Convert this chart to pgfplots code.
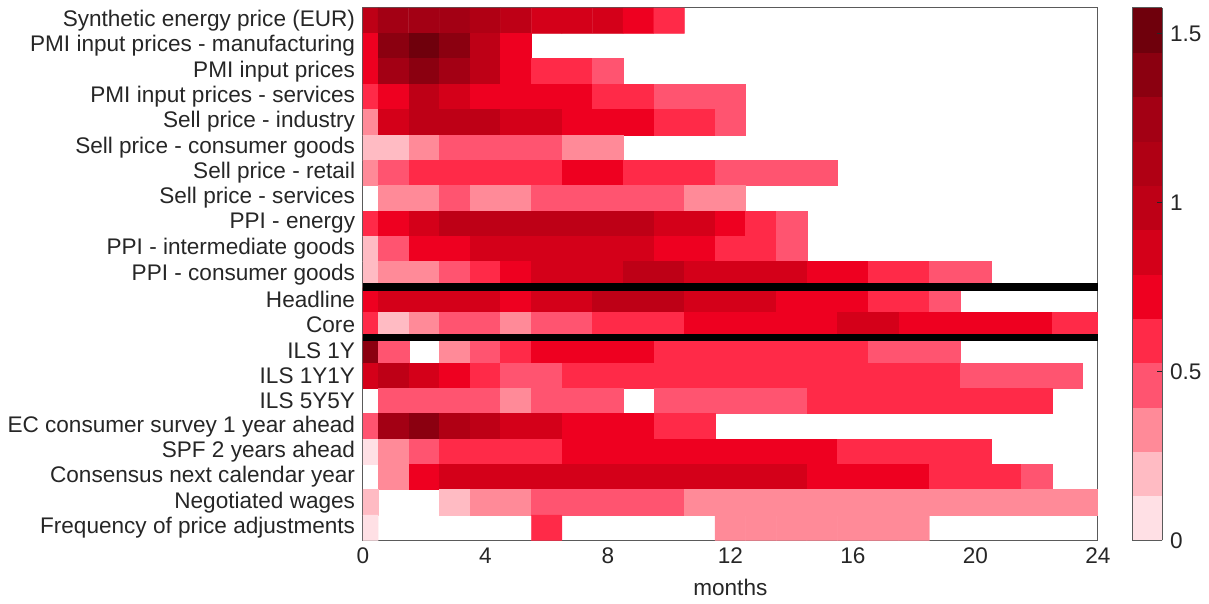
\documentclass[border=0pt]{standalone}
\usepackage{pgfplots}
\pgfplotsset{compat=1.18}
\usepackage{fontspec}
\setmainfont{Liberation Sans}
\definecolor{txt}{RGB}{38,38,38}
\definecolor{frame}{RGB}{90,90,90}
\newcommand{\fs}{\fontsize{22.6}{27}\selectfont}
\begin{document}
\fs
\begin{tikzpicture}
\begin{axis}[
  at={(0,0)}, anchor=south west,
  scale only axis, width=736pt, height=533pt,
  xmin=0, xmax=24, ymin=0.5, ymax=21.5, y dir=reverse,
  xtick={0,4,...,24}, ytick={1,...,21},
  yticklabels={Synthetic energy price (EUR),PMI input prices - manufacturing,PMI input prices,PMI input prices - services,Sell price - industry,Sell price - consumer goods,Sell price - retail,Sell price - services,PPI - energy,PPI - intermediate goods,PPI - consumer goods,Headline,Core,ILS 1Y,ILS 1Y1Y,ILS 5Y5Y,EC consumer survey 1 year ahead,SPF 2 years ahead,Consensus next calendar year,Negotiated wages,Frequency of price adjustments},
  major tick style={draw=none},
  xlabel={months},
  label style={font=\fs, text=txt},
  tick label style={font=\fs, text=txt},
  /pgf/number format/assume math mode=true,
  axis line style={frame, line width=1pt},
  unbounded coords=jump,
  point meta min=0, point meta max=1.577,
  colormap={ecb}{rgb255=(255,224,229) rgb255=(255,187,195) rgb255=(255,138,152) rgb255=(255,84,112) rgb255=(255,42,72) rgb255=(238,0,32) rgb255=(212,0,25) rgb255=(190,0,22) rgb255=(176,0,20) rgb255=(163,0,20) rgb255=(139,0,16) rgb255=(111,0,12)},
  colormap access=piecewise constant,
  colorbar,
  colorbar style={
    width=30pt, at={(parent axis.north east)}, anchor=north west, xshift=26pt,
    ymin=0, ymax=1.577, ytick={0,0.5,1,1.5},
    ytick pos=right, yticklabel pos=right,
    tick align=inside, major tick length=5pt,
    major tick style={draw=txt, line width=1pt},
    axis line style={frame, line width=1pt},
    tick label style={font=\fs, text=txt},
    /pgf/number format/assume math mode=true,
  },
]
\addplot[matrix plot*, mesh/cols=25, mesh/rows=21, point meta=explicit] coordinates {
(0,1)[0.986] (1,1)[1.248] (2,1)[1.248] (3,1)[1.248] (4,1)[1.117] (5,1)[0.986] (6,1)[0.854] (7,1)[0.854] (8,1)[0.854] (9,1)[0.723] (10,1)[0.591] (11,1)[nan] (12,1)[nan] (13,1)[nan] (14,1)[nan] (15,1)[nan] (16,1)[nan] (17,1)[nan] (18,1)[nan] (19,1)[nan] (20,1)[nan] (21,1)[nan] (22,1)[nan] (23,1)[nan] (24,1)[nan]
(0,2)[0.723] (1,2)[1.380] (2,2)[1.511] (3,2)[1.380] (4,2)[0.986] (5,2)[0.723] (6,2)[nan] (7,2)[nan] (8,2)[nan] (9,2)[nan] (10,2)[nan] (11,2)[nan] (12,2)[nan] (13,2)[nan] (14,2)[nan] (15,2)[nan] (16,2)[nan] (17,2)[nan] (18,2)[nan] (19,2)[nan] (20,2)[nan] (21,2)[nan] (22,2)[nan] (23,2)[nan] (24,2)[nan]
(0,3)[0.723] (1,3)[1.248] (2,3)[1.380] (3,3)[1.248] (4,3)[0.986] (5,3)[0.723] (6,3)[0.591] (7,3)[0.591] (8,3)[0.460] (9,3)[nan] (10,3)[nan] (11,3)[nan] (12,3)[nan] (13,3)[nan] (14,3)[nan] (15,3)[nan] (16,3)[nan] (17,3)[nan] (18,3)[nan] (19,3)[nan] (20,3)[nan] (21,3)[nan] (22,3)[nan] (23,3)[nan] (24,3)[nan]
(0,4)[0.591] (1,4)[0.723] (2,4)[0.986] (3,4)[0.854] (4,4)[0.723] (5,4)[0.723] (6,4)[0.723] (7,4)[0.723] (8,4)[0.591] (9,4)[0.591] (10,4)[0.460] (11,4)[0.460] (12,4)[0.460] (13,4)[nan] (14,4)[nan] (15,4)[nan] (16,4)[nan] (17,4)[nan] (18,4)[nan] (19,4)[nan] (20,4)[nan] (21,4)[nan] (22,4)[nan] (23,4)[nan] (24,4)[nan]
(0,5)[0.329] (1,5)[0.854] (2,5)[0.986] (3,5)[0.986] (4,5)[0.986] (5,5)[0.854] (6,5)[0.854] (7,5)[0.723] (8,5)[0.723] (9,5)[0.723] (10,5)[0.591] (11,5)[0.591] (12,5)[0.460] (13,5)[nan] (14,5)[nan] (15,5)[nan] (16,5)[nan] (17,5)[nan] (18,5)[nan] (19,5)[nan] (20,5)[nan] (21,5)[nan] (22,5)[nan] (23,5)[nan] (24,5)[nan]
(0,6)[0.197] (1,6)[0.197] (2,6)[0.329] (3,6)[0.460] (4,6)[0.460] (5,6)[0.460] (6,6)[0.460] (7,6)[0.329] (8,6)[0.329] (9,6)[nan] (10,6)[nan] (11,6)[nan] (12,6)[nan] (13,6)[nan] (14,6)[nan] (15,6)[nan] (16,6)[nan] (17,6)[nan] (18,6)[nan] (19,6)[nan] (20,6)[nan] (21,6)[nan] (22,6)[nan] (23,6)[nan] (24,6)[nan]
(0,7)[0.329] (1,7)[0.460] (2,7)[0.591] (3,7)[0.591] (4,7)[0.591] (5,7)[0.591] (6,7)[0.591] (7,7)[0.723] (8,7)[0.723] (9,7)[0.591] (10,7)[0.591] (11,7)[0.591] (12,7)[0.460] (13,7)[0.460] (14,7)[0.460] (15,7)[0.460] (16,7)[nan] (17,7)[nan] (18,7)[nan] (19,7)[nan] (20,7)[nan] (21,7)[nan] (22,7)[nan] (23,7)[nan] (24,7)[nan]
(0,8)[nan] (1,8)[0.329] (2,8)[0.329] (3,8)[0.460] (4,8)[0.329] (5,8)[0.329] (6,8)[0.460] (7,8)[0.460] (8,8)[0.460] (9,8)[0.460] (10,8)[0.460] (11,8)[0.329] (12,8)[0.329] (13,8)[nan] (14,8)[nan] (15,8)[nan] (16,8)[nan] (17,8)[nan] (18,8)[nan] (19,8)[nan] (20,8)[nan] (21,8)[nan] (22,8)[nan] (23,8)[nan] (24,8)[nan]
(0,9)[0.591] (1,9)[0.723] (2,9)[0.854] (3,9)[0.986] (4,9)[0.986] (5,9)[0.986] (6,9)[0.986] (7,9)[0.986] (8,9)[0.986] (9,9)[0.986] (10,9)[0.854] (11,9)[0.854] (12,9)[0.723] (13,9)[0.591] (14,9)[0.460] (15,9)[nan] (16,9)[nan] (17,9)[nan] (18,9)[nan] (19,9)[nan] (20,9)[nan] (21,9)[nan] (22,9)[nan] (23,9)[nan] (24,9)[nan]
(0,10)[0.197] (1,10)[0.460] (2,10)[0.723] (3,10)[0.723] (4,10)[0.854] (5,10)[0.854] (6,10)[0.854] (7,10)[0.854] (8,10)[0.854] (9,10)[0.854] (10,10)[0.723] (11,10)[0.723] (12,10)[0.591] (13,10)[0.591] (14,10)[0.460] (15,10)[nan] (16,10)[nan] (17,10)[nan] (18,10)[nan] (19,10)[nan] (20,10)[nan] (21,10)[nan] (22,10)[nan] (23,10)[nan] (24,10)[nan]
(0,11)[0.197] (1,11)[0.329] (2,11)[0.329] (3,11)[0.460] (4,11)[0.591] (5,11)[0.723] (6,11)[0.854] (7,11)[0.854] (8,11)[0.854] (9,11)[0.986] (10,11)[0.986] (11,11)[0.854] (12,11)[0.854] (13,11)[0.854] (14,11)[0.854] (15,11)[0.723] (16,11)[0.723] (17,11)[0.591] (18,11)[0.591] (19,11)[0.460] (20,11)[0.460] (21,11)[nan] (22,11)[nan] (23,11)[nan] (24,11)[nan]
(0,12)[0.723] (1,12)[0.854] (2,12)[0.854] (3,12)[0.854] (4,12)[0.854] (5,12)[0.723] (6,12)[0.854] (7,12)[0.854] (8,12)[0.986] (9,12)[0.986] (10,12)[0.986] (11,12)[0.854] (12,12)[0.854] (13,12)[0.854] (14,12)[0.723] (15,12)[0.723] (16,12)[0.723] (17,12)[0.591] (18,12)[0.591] (19,12)[0.460] (20,12)[nan] (21,12)[nan] (22,12)[nan] (23,12)[nan] (24,12)[nan]
(0,13)[0.591] (1,13)[0.197] (2,13)[0.329] (3,13)[0.460] (4,13)[0.460] (5,13)[0.329] (6,13)[0.460] (7,13)[0.460] (8,13)[0.591] (9,13)[0.591] (10,13)[0.591] (11,13)[0.723] (12,13)[0.723] (13,13)[0.723] (14,13)[0.723] (15,13)[0.723] (16,13)[0.854] (17,13)[0.854] (18,13)[0.723] (19,13)[0.723] (20,13)[0.723] (21,13)[0.723] (22,13)[0.723] (23,13)[0.591] (24,13)[0.591]
(0,14)[1.380] (1,14)[0.460] (2,14)[nan] (3,14)[0.329] (4,14)[0.460] (5,14)[0.591] (6,14)[0.723] (7,14)[0.723] (8,14)[0.723] (9,14)[0.723] (10,14)[0.591] (11,14)[0.591] (12,14)[0.591] (13,14)[0.591] (14,14)[0.591] (15,14)[0.591] (16,14)[0.591] (17,14)[0.460] (18,14)[0.460] (19,14)[0.460] (20,14)[nan] (21,14)[nan] (22,14)[nan] (23,14)[nan] (24,14)[nan]
(0,15)[0.854] (1,15)[0.986] (2,15)[0.854] (3,15)[0.723] (4,15)[0.591] (5,15)[0.460] (6,15)[0.460] (7,15)[0.591] (8,15)[0.591] (9,15)[0.591] (10,15)[0.591] (11,15)[0.591] (12,15)[0.591] (13,15)[0.591] (14,15)[0.591] (15,15)[0.591] (16,15)[0.591] (17,15)[0.591] (18,15)[0.591] (19,15)[0.591] (20,15)[0.460] (21,15)[0.460] (22,15)[0.460] (23,15)[0.460] (24,15)[nan]
(0,16)[nan] (1,16)[0.460] (2,16)[0.460] (3,16)[0.460] (4,16)[0.460] (5,16)[0.329] (6,16)[0.460] (7,16)[0.460] (8,16)[0.460] (9,16)[nan] (10,16)[0.460] (11,16)[0.460] (12,16)[0.460] (13,16)[0.460] (14,16)[0.460] (15,16)[0.591] (16,16)[0.591] (17,16)[0.591] (18,16)[0.591] (19,16)[0.591] (20,16)[0.591] (21,16)[0.591] (22,16)[0.591] (23,16)[nan] (24,16)[nan]
(0,17)[0.460] (1,17)[1.248] (2,17)[1.380] (3,17)[1.117] (4,17)[0.986] (5,17)[0.854] (6,17)[0.854] (7,17)[0.723] (8,17)[0.723] (9,17)[0.723] (10,17)[0.591] (11,17)[0.591] (12,17)[nan] (13,17)[nan] (14,17)[nan] (15,17)[nan] (16,17)[nan] (17,17)[nan] (18,17)[nan] (19,17)[nan] (20,17)[nan] (21,17)[nan] (22,17)[nan] (23,17)[nan] (24,17)[nan]
(0,18)[0.066] (1,18)[0.329] (2,18)[0.460] (3,18)[0.591] (4,18)[0.591] (5,18)[0.591] (6,18)[0.591] (7,18)[0.723] (8,18)[0.723] (9,18)[0.723] (10,18)[0.723] (11,18)[0.723] (12,18)[0.723] (13,18)[0.723] (14,18)[0.723] (15,18)[0.723] (16,18)[0.591] (17,18)[0.591] (18,18)[0.591] (19,18)[0.591] (20,18)[0.591] (21,18)[nan] (22,18)[nan] (23,18)[nan] (24,18)[nan]
(0,19)[nan] (1,19)[0.329] (2,19)[0.723] (3,19)[0.854] (4,19)[0.854] (5,19)[0.854] (6,19)[0.854] (7,19)[0.854] (8,19)[0.854] (9,19)[0.854] (10,19)[0.854] (11,19)[0.854] (12,19)[0.854] (13,19)[0.854] (14,19)[0.854] (15,19)[0.723] (16,19)[0.723] (17,19)[0.723] (18,19)[0.723] (19,19)[0.591] (20,19)[0.591] (21,19)[0.591] (22,19)[0.460] (23,19)[nan] (24,19)[nan]
(0,20)[0.197] (1,20)[nan] (2,20)[nan] (3,20)[0.197] (4,20)[0.329] (5,20)[0.329] (6,20)[0.460] (7,20)[0.460] (8,20)[0.460] (9,20)[0.460] (10,20)[0.460] (11,20)[0.329] (12,20)[0.329] (13,20)[0.329] (14,20)[0.329] (15,20)[0.329] (16,20)[0.329] (17,20)[0.329] (18,20)[0.329] (19,20)[0.329] (20,20)[0.329] (21,20)[0.329] (22,20)[0.329] (23,20)[0.329] (24,20)[0.329]
(0,21)[0.066] (1,21)[nan] (2,21)[nan] (3,21)[nan] (4,21)[nan] (5,21)[nan] (6,21)[0.591] (7,21)[nan] (8,21)[nan] (9,21)[nan] (10,21)[nan] (11,21)[nan] (12,21)[0.329] (13,21)[0.329] (14,21)[0.329] (15,21)[0.329] (16,21)[0.329] (17,21)[0.329] (18,21)[0.329] (19,21)[nan] (20,21)[nan] (21,21)[nan] (22,21)[nan] (23,21)[nan] (24,21)[nan]
};
\addplot[black, line width=7.5pt, forget plot] coordinates {(0,11.5) (24,11.5)};
\addplot[black, line width=7.5pt, forget plot] coordinates {(0,13.5) (24,13.5)};
\end{axis}
\path (-362pt,-58pt) rectangle (847pt,541pt);
\end{tikzpicture}
\end{document}
